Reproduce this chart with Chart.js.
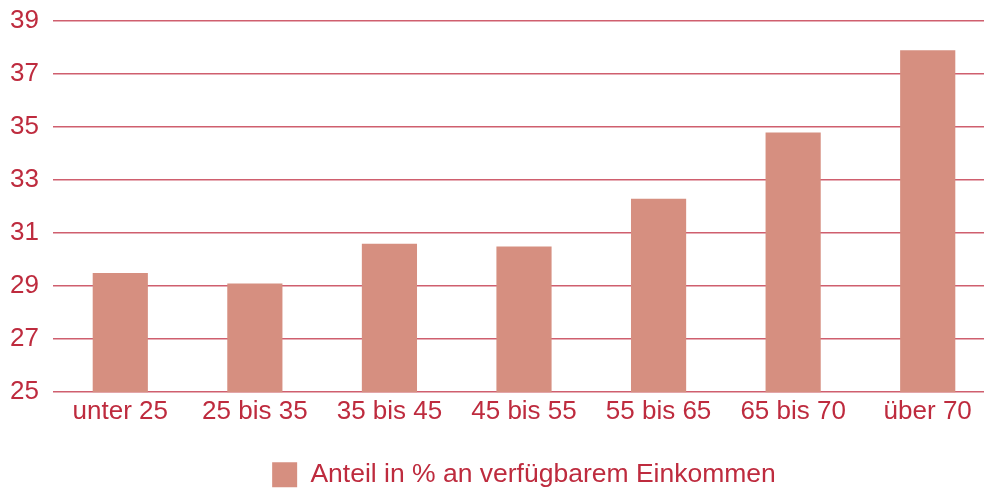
<!DOCTYPE html>
<html>
<head>
<meta charset="utf-8">
<script src="https://cdn.jsdelivr.net/npm/chart.js@4.4.1/dist/chart.umd.min.js"></script>
<style>
  html, body { margin: 0; padding: 0; background: #ffffff; overflow: hidden; width: 984px; height: 492px; }
  #wrap { position: absolute; left: 0; top: 0; width: 995px; height: 498px; }
</style>
</head>
<body>
<div id="wrap"><canvas id="c" width="995" height="498"></canvas></div>
<script>
const categories = ["unter 25", "25 bis 35", "35 bis 45", "45 bis 55", "55 bis 65", "65 bis 70", "über 70"];
const seriesLabel = "Anteil in % an verfügbarem Einkommen";
const values = [29.5, 29.1, 30.6, 30.5, 32.3, 34.8, 37.9];
const yTicks = [25, 27, 29, 31, 33, 35, 37, 39];

const textColor = "#be2b3e";
const gridColor = "#cf5f6e";
const barColor = "#d68f80";
const fontFamily = "'Liberation Sans', Arial, sans-serif";

new Chart(document.getElementById("c"), {
  type: "bar",
  data: {
    labels: categories,
    datasets: [{
      label: seriesLabel,
      data: values,
      backgroundColor: barColor,
      borderWidth: 0,
      barPercentage: 0.41,
      categoryPercentage: 1.0
    }]
  },
  options: {
    responsive: false,
    animation: false,
    devicePixelRatio: 1,
    layout: { padding: { left: 10, right: 0, top: 21, bottom: 0 } },
    plugins: {
      legend: {
        position: "bottom",
        fullSize: false,
        labels: {
          color: textColor,
          font: { family: fontFamily, size: 26.5 },
          boxWidth: 25,
          boxHeight: 25,
          padding: 34.25
        }
      },
      tooltip: { enabled: false }
    },
    scales: {
      x: {
        grid: { display: false, drawTicks: false },
        border: { display: false },
        afterFit: (s) => { s.height = 35; s.paddingLeft = 0; s.paddingRight = 0; },
        ticks: {
          color: textColor,
          font: { family: fontFamily, size: 26 },
          padding: 3.8,
          maxRotation: 0,
          autoSkip: false
        }
      },
      y: {
        min: yTicks[0],
        max: yTicks[yTicks.length - 1],
        afterBuildTicks: (axis) => { axis.ticks = yTicks.map(v => ({ value: v })); },
        afterFit: (s) => { s.width = 43; s.paddingTop = 0; s.paddingBottom = 0; },
        grid: { color: gridColor, lineWidth: 1.6, drawTicks: false },
        border: { display: false },
        ticks: {
          color: textColor,
          font: { family: fontFamily, size: 26 },
          padding: 14
        }
      }
    }
  }
});
</script>
</body>
</html>
